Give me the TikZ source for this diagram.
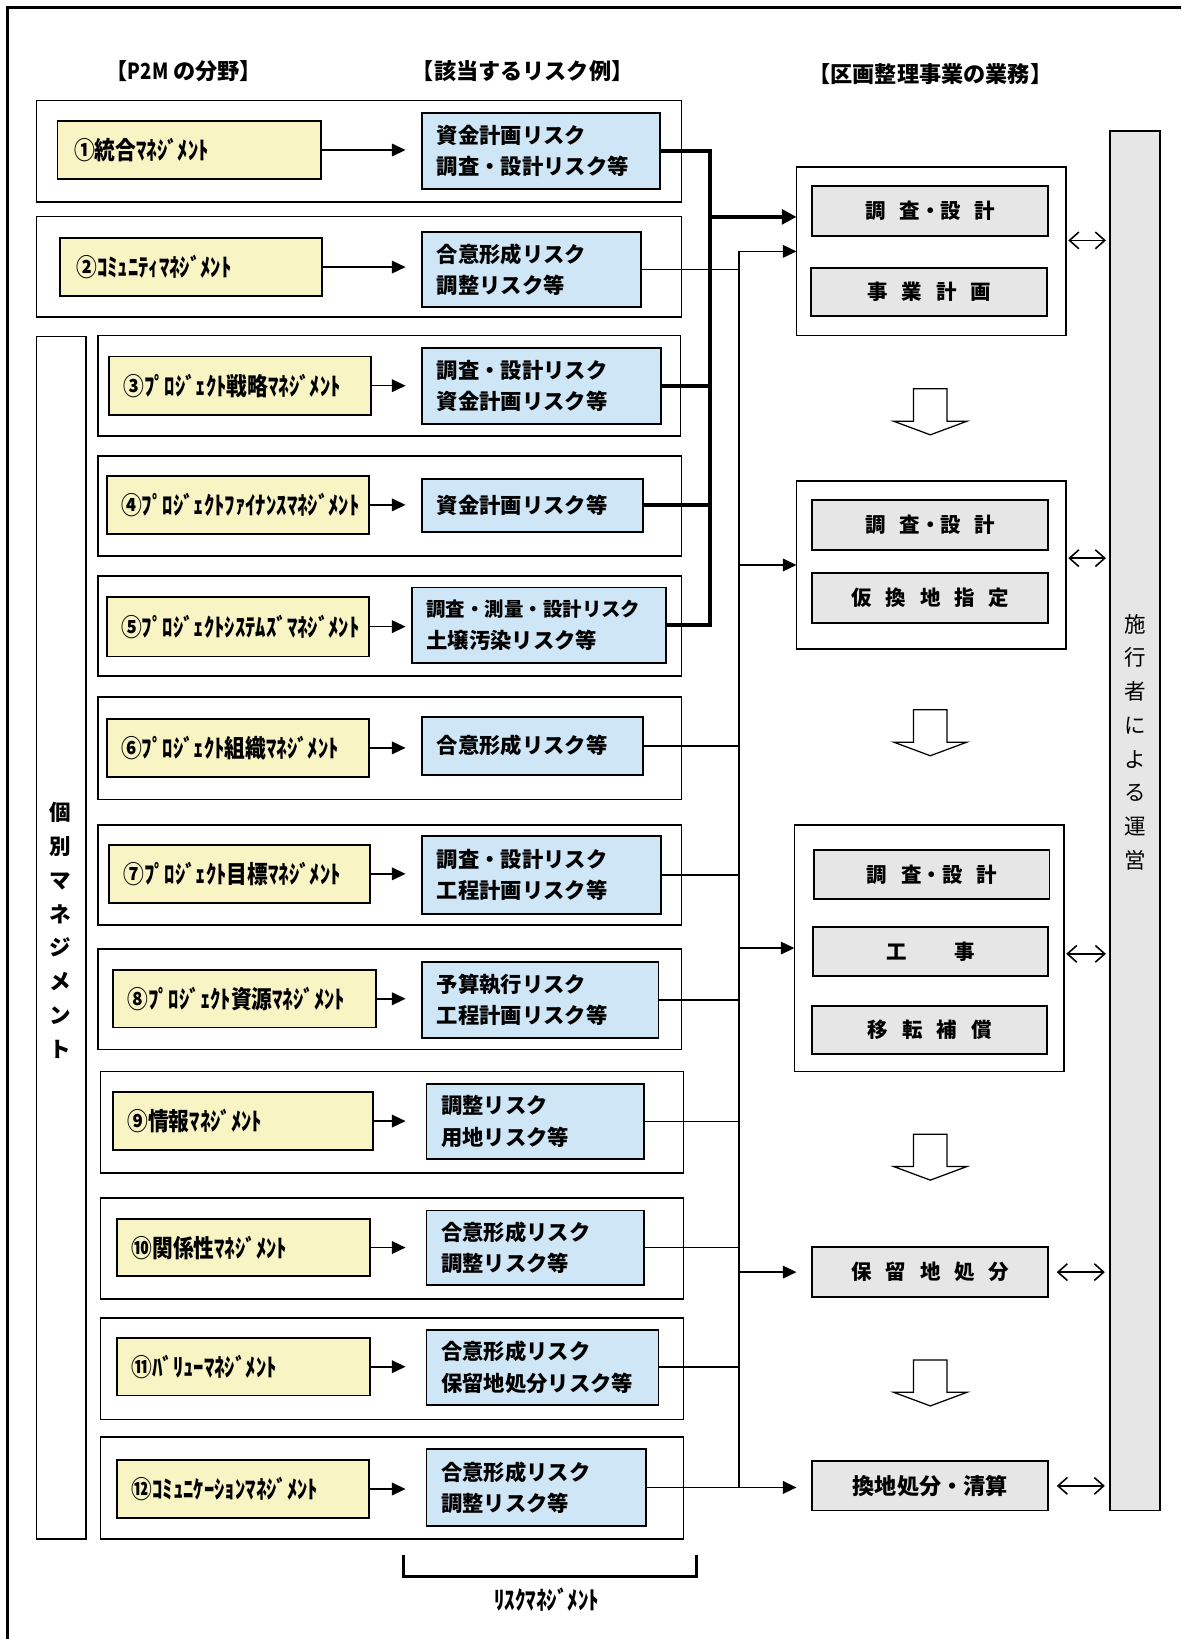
\documentclass[tikz,border=0pt]{standalone}
\usepackage{fontspec}
\usetikzlibrary{arrows.meta,calc}
\newfontfamily\jp{Noto Sans CJK JP}
\newfontfamily\jpn{Noto Sans CJK JP}[FakeStretch=0.84]
\definecolor{ylw}{HTML}{F8F4C4}
\definecolor{blu}{HTML}{CFE6F6}
\definecolor{gry}{HTML}{E6E6E6}
\newcommand\gp{\hspace{0.68em}}
% box from corner (x1,y1) to (x2,y2), y counted downwards
\newcommand\bx[7]{%
  \pgfmathsetmacro\bxw{(#5-#3)*0.5}%
  \pgfmathsetmacro\bxh{(#6-#4)*0.5}%
  \pgfmathsetmacro\bxt{max(\bxw-14,1)}%
  \node[#1, minimum width=\bxw pt, minimum height=\bxh pt, text width=\bxt pt]
    (#2) at ({(#3+#5)/2},{(#4+#6)/2}) {#7};}
% hollow downward block arrow, top centre at (x,y)
\newcommand\hollow[2]{%
  \draw[hol] ({#1-16},#2) -- ({#1+16},#2) -- ({#1+16},{#2+31}) -- ({#1+35},{#2+31})
    -- (#1,{#2+44}) -- ({#1-35},{#2+31}) -- ({#1-16},{#2+31}) -- cycle;}
\tikzset{
  box/.style={draw=black, line width=0.9pt, inner ysep=0pt, inner xsep=7pt, outer sep=0pt},
  grp/.style={box, line width=0.8pt},
  pm/.style={box, fill=ylw, align=left, font=\jpn\bfseries\fontsize{11.8}{13}\selectfont},
  rk/.style={box, fill=blu, align=left, font=\jp\bfseries\fontsize{10.2}{15}\selectfont},
  tk/.style={box, fill=gry, align=center, font=\jp\bfseries\fontsize{9.8}{12}\selectfont},
  bar/.style={box, fill=gry},
  hd/.style={inner sep=0pt, font=\jp\bfseries\fontsize{10.6}{12}\selectfont},
  vt/.style={inner sep=0pt, align=center, font=\jp\fontsize{10.3}{16.15}\selectfont},
  pmarr/.style={line width=0.75pt, -{Triangle[length=6.5pt,width=6pt]}},
  thk/.style={line width=2pt, line join=miter},
  thkarr/.style={line width=2pt, -{Triangle[length=7pt,width=7pt]}},
  thn/.style={line width=0.75pt},
  thnarr/.style={line width=0.75pt, -{Triangle[length=6.5pt,width=6pt]}},
  dbl/.style={line width=0.75pt, {Straight Barb[length=4.5pt,width=8pt]}-{Straight Barb[length=4.5pt,width=8pt]}},
  hol/.style={draw=black, fill=white, line width=0.6pt, line join=miter},
}
\begin{document}
\begin{tikzpicture}[x=0.5pt,y=-0.5pt]
\useasboundingbox (0,0) rectangle (1130,1568);
\fill[white] (0,0) rectangle (1130,1568);

% page frame (top and left edges)
\coordinate (fTR) at (1130,7);
\coordinate (fTL) at (7,7);
\coordinate (fBL) at (7,1568);
\draw[line width=1.2pt] (fTR) -- (fTL) -- (fBL);

% column headings
\node[hd] (h-p2m)  at (176,68) {【{\jpn P2M} の分野】};
\node[hd] (h-risk) at (500,68) {【該当するリスク例】};
\node[hd] (h-task) at (890,71) {【区画整理事業の業務】};

% group frames
\bx{grp}{g1}{35}{96}{652}{193}{}
\bx{grp}{g2}{35}{207}{652}{303}{}
\bx{grp}{g3}{94}{321}{651}{417}{}
\bx{grp}{g4}{94}{436}{652}{532}{}
\bx{grp}{g5}{94}{551}{652}{647}{}
\bx{grp}{g6}{94}{667}{652}{765}{}
\bx{grp}{g7}{94}{789}{652}{885}{}
\bx{grp}{g8}{94}{908}{652}{1004}{}
\bx{grp}{g9}{96}{1025}{654}{1122}{}
\bx{grp}{g10}{96}{1146}{654}{1243}{}
\bx{grp}{g11}{96}{1261}{654}{1358}{}
\bx{grp}{g12}{96}{1375}{654}{1472}{}

% individual management column
\bx{grp}{kb}{35}{322}{82}{1472}{}
\node[vt, font=\jp\bfseries\fontsize{10.3}{16.15}\selectfont] (kbt) at (58,890)
  {個\\別\\マ\\ネ\\ジ\\メ\\ン\\ト};

% P2M fields
\bx{pm}{y1}{55}{116}{307}{171}{\hspace{1pt}①統合ﾏﾈｼﾞﾒﾝﾄ}
\bx{pm}{y2}{57}{228}{308}{283}{\hspace{1pt}②ｺﾐｭﾆﾃｨﾏﾈｼﾞﾒﾝﾄ}
\bx{pm}{y3}{104}{341}{355}{397}{③ﾌﾟﾛｼﾞｪｸﾄ戦略ﾏﾈｼﾞﾒﾝﾄ}
\bx{pm}{y4}{102}{455}{353}{511}{④ﾌﾟﾛｼﾞｪｸﾄﾌｧｲﾅﾝｽﾏﾈｼﾞﾒﾝﾄ}
\bx{pm}{y5}{102}{571}{353}{628}{⑤ﾌﾟﾛｼﾞｪｸﾄｼｽﾃﾑｽﾞﾏﾈｼﾞﾒﾝﾄ}
\bx{pm}{y6}{102}{688}{353}{743}{⑥ﾌﾟﾛｼﾞｪｸﾄ組織ﾏﾈｼﾞﾒﾝﾄ}
\bx{pm}{y7}{104}{808}{354}{864}{⑦ﾌﾟﾛｼﾞｪｸﾄ目標ﾏﾈｼﾞﾒﾝﾄ}
\bx{pm}{y8}{108}{928}{360}{983}{⑧ﾌﾟﾛｼﾞｪｸﾄ資源ﾏﾈｼﾞﾒﾝﾄ}
\bx{pm}{y9}{108}{1045}{357}{1100}{⑨情報ﾏﾈｼﾞﾒﾝﾄ}
\bx{pm}{y10}{112}{1166}{354}{1221}{⑩関係性ﾏﾈｼﾞﾒﾝﾄ}
\bx{pm}{y11}{112}{1280}{354}{1335}{⑪ﾊﾞﾘｭｰﾏﾈｼﾞﾒﾝﾄ}
\bx{pm}{y12}{112}{1397}{353}{1452}{⑫ｺﾐｭﾆｹｰｼｮﾝﾏﾈｼﾞﾒﾝﾄ}

% risk examples
\bx{rk}{r1}{404}{108}{631}{181}{資金計画リスク\\調査・設計リスク等}
\bx{rk}{r2}{404}{222}{613}{294}{合意形成リスク\\調整リスク等}
\bx{rk}{r3}{404}{333}{632}{406}{調査・設計リスク\\資金計画リスク等}
\bx{rk}{r4}{404}{458}{615}{509}{資金計画リスク等}
\bx{rk}{r5}{394}{562}{637}{634}{{\fontsize{9.3}{15}\selectfont 調査・測量・設計リスク}\\土壌汚染リスク等}
\bx{rk}{r6}{404}{686}{615}{741}{合意形成リスク等}
\bx{rk}{r7}{404}{800}{632}{874}{調査・設計リスク\\工程計画リスク等}
\bx{rk}{r8}{404}{920}{630}{993}{予算執行リスク\\工程計画リスク等}
\bx{rk}{r9}{408}{1037}{616}{1109}{調整リスク\\用地リスク等}
\bx{rk}{r10}{408}{1158}{616}{1229}{合意形成リスク\\調整リスク等}
\bx{rk}{r11}{408}{1272}{630}{1344}{合意形成リスク\\保留地処分リスク等}
\bx{rk}{r12}{408}{1386}{618}{1460}{合意形成リスク\\調整リスク等}

% field -> risk arrows
\coordinate (ax) at (388,0);
\foreach \i in {1,...,12} {
  \draw[pmarr] (y\i.east) -- (y\i.east -| ax);
}

% project tasks
\bx{grp}{t1}{762}{160}{1020}{321}{}
\bx{tk}{t1a}{777}{178}{1003}{226}{調\gp 査・設\gp 計}
\bx{tk}{t1b}{776}{256}{1002}{302}{事\gp 業\gp 計\gp 画}
\bx{grp}{t2}{762}{460}{1020}{621}{}
\bx{tk}{t2a}{777}{478}{1003}{526}{調\gp 査・設\gp 計}
\bx{tk}{t2b}{777}{548}{1003}{596}{仮\gp 換\gp 地\gp 指\gp 定}
\bx{grp}{t3}{760}{789}{1018}{1025}{}
\bx{tk}{t3a}{779}{813}{1004}{860}{調\gp 査・設\gp 計}
\bx{tk}{t3b}{778}{887}{1003}{934}{工\hspace{2.3em}事}
\bx{tk}{t3c}{777}{962}{1002}{1008}{移\gp 転\gp 補\gp 償}
\bx{tk}{k1}{777}{1193}{1003}{1241}{保\gp 留\gp 地\gp 処\gp 分}
\bx{tk}{k2}{777}{1398}{1003}{1445}{{\fontsize{10.6}{12}\selectfont 換地処分・清算}}

% operator bar
\bx{bar}{bar}{1062}{125}{1110}{1445}{}
\node[vt] (bart) at (1086,710) {施\\行\\者\\に\\よ\\る\\運\\営};

% flow between task stages
\hollow{890}{372}
\hollow{890}{679}
\hollow{890}{1085}
\hollow{890}{1301}

% thick bus: risks 1,3,4,5
\coordinate (bus) at (679,0);
\draw[thk] (r1.east) -- (r1.east -| bus) -- (r5.east -| bus) -- (r5.east);
\draw[thk] (r3.east) -- (r3.east -| bus);
\draw[thk] (r4.east) -- (r4.east -| bus);
\draw[thkarr] ($(t1.west -| bus)+(0,-33)$) -- ($(t1.west)+(0,-33)$);

% thin bus: the other risks
\coordinate (tb) at (707,0);
\draw[thn] (t1.west -| tb) -- (r12.east -| tb);
\foreach \i in {2,6,7,8,9,10,11} {
  \draw[thn] (r\i.east) -- (r\i.east -| tb);
}
\draw[thnarr] (t1.west -| tb) -- (t1.west);
\draw[thnarr] (t2.west -| tb) -- (t2.west);
\draw[thnarr] (t3.west -| tb) -- (t3.west);
\draw[thnarr, shorten >=7.5pt] (k1.west -| tb) -- (k1.west);
\draw[thnarr, shorten >=7.5pt] (r12.east) -- (r12.east -| k2.west);

% links to the operator bar
\draw[dbl, shorten <=1pt, shorten >=2pt] ($(t1.east |- t1a.south)+(0,4)$) -- ($(bar.west |- t1a.south)+(0,4)$);
\draw[dbl, shorten <=1pt, shorten >=2pt] ($(t2.east |- t2a.south)+(0,8)$) -- ($(bar.west |- t2a.south)+(0,8)$);
\draw[dbl, shorten <=1pt, shorten >=2pt] ($(t3.east |- t3b.east)+(0,2)$) -- ($(bar.west |- t3b.east)+(0,2)$);
\draw[dbl, shorten <=4pt, shorten >=2.5pt] (k1.east) -- (k1.east -| bar.west);
\draw[dbl, shorten <=4pt, shorten >=2.5pt] (k2.east) -- (k2.east -| bar.west);

% risk management bracket
\coordinate (bk1) at (386,1488);
\coordinate (bk2) at (666,1488);
\coordinate (bk3) at (666,1508);
\coordinate (bk4) at (386,1508);
\draw[line width=1.5pt, line join=miter] (bk1) -- (bk4) -- (bk3) -- (bk2);
\node[hd, font=\jpn\bfseries\fontsize{12}{13}\selectfont] (bkt) at (523,1530) {ﾘｽｸﾏﾈｼﾞﾒﾝﾄ};
\end{tikzpicture}
\end{document}
